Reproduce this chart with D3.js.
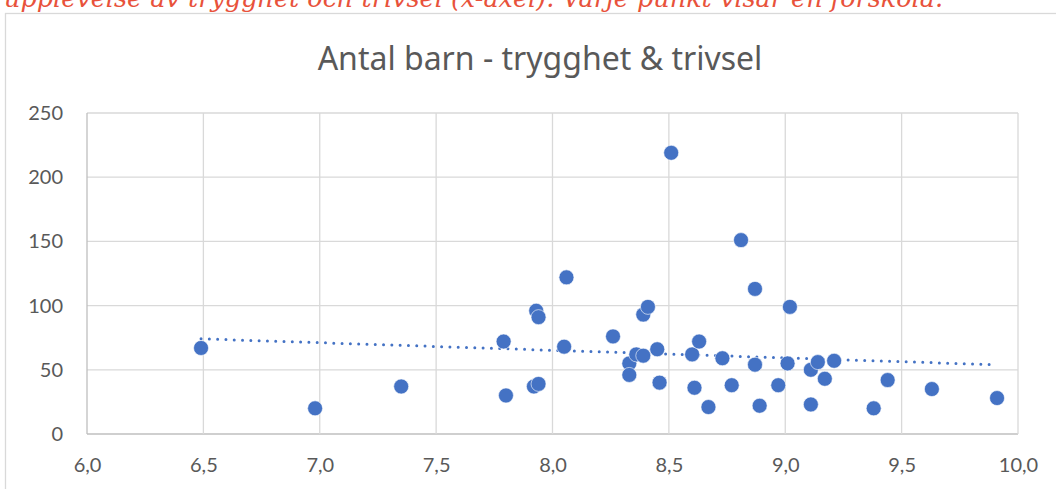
<!DOCTYPE html>
<html>
<head>
<meta charset="utf-8">
<script src="https://cdn.jsdelivr.net/npm/d3@7"></script>
<style>
  html, body { margin: 0; padding: 0; background: #fff; overflow: hidden; }
  svg { display: block; }
</style>
</head>
<body>
<svg id="chart" width="1056" height="489"></svg>
<script>
// trygghet & trivsel (x) vs antal barn (y), one point per förskola
const trivsel = [6.49, 6.98, 7.35, 7.79, 7.80, 7.93, 7.94, 7.92, 7.94, 8.05,
    8.06, 8.26, 8.33, 8.33, 8.36, 8.39, 8.39, 8.41, 8.45, 8.46,
    8.51, 8.60, 8.63, 8.61, 8.67, 8.73, 8.77, 8.81, 8.87, 8.87,
    8.89, 8.97, 9.01, 9.02, 9.11, 9.14, 9.17, 9.21, 9.11, 9.38,
    9.44, 9.63, 9.91];
const antalBarn = [67, 20, 37, 72, 30, 96, 91, 37, 39, 68,
    122, 76, 55, 46, 62, 61, 93, 99, 66, 40,
    219, 62, 72, 36, 21, 59, 38, 151, 113, 54,
    22, 38, 55, 99, 50, 56, 43, 57, 23, 20,
    42, 35, 28];
const xTicks = [6.0, 6.5, 7.0, 7.5, 8.0, 8.5, 9.0, 9.5, 10.0];
const yTicks = [0, 50, 100, 150, 200, 250];

const title = 'Antal barn - trygghet & trivsel';
const caption = 'upplevelse av trygghet och trivsel (x-axel). Varje punkt visar en förskola.';

const svg = d3.select('#chart');
const margin = {left: 87, right: 38, top: 113, bottom: 55};
const W = 1056, H = 489;

const x = d3.scaleLinear().domain([6, 10]).range([margin.left, W - margin.right]);
const y = d3.scaleLinear().domain([0, 250]).range([H - margin.bottom, margin.top]);

// text above the chart, cut by the top edge (as in the source)
svg.append('text')
    .attr('x', 4).attr('y', 7)
    .style('font-family', '"DejaVu Serif", serif')
    .style('font-style', 'italic')
    .style('font-size', '25.5px')
    .style('fill', '#e8523b')
    .text(caption);

// chart frame
svg.append('rect')
    .attr('x', 5.5).attr('y', 13.5)
    .attr('width', 1070).attr('height', 500)
    .attr('fill', '#fff')
    .attr('stroke', '#d9d9d9')
    .attr('stroke-width', 1.3);

svg.append('text')
    .attr('x', 540).attr('y', 70)
    .attr('text-anchor', 'middle')
    .style('font-family', '"Noto Sans", sans-serif')
    .style('font-size', '32px')
    .style('fill', '#595959')
    .text(title);

// gridlines
const grid = svg.append('g');
grid.selectAll('line.h').data(yTicks).enter().append('line')
    .attr('x1', x(6)).attr('x2', x(10))
    .attr('y1', (d) => y(d)).attr('y2', (d) => y(d))
    .attr('stroke', (d) => d === 0 ? '#bfbfbf' : '#d9d9d9')
    .attr('stroke-width', 1.3);
grid.selectAll('line.v').data(xTicks).enter().append('line')
    .attr('y1', y(0)).attr('y2', y(250))
    .attr('x1', (d) => x(d)).attr('x2', (d) => x(d))
    .attr('stroke', (d) => d === 6 ? '#bfbfbf' : '#d9d9d9')
    .attr('stroke-width', 1.3);

// axes (labels only)
const fmt = (d) => d3.format('.1f')(d).replace('.', ',');
const xAxis = svg.append('g')
    .attr('transform', `translate(0,${y(0)})`)
    .call(d3.axisBottom(x).tickValues(xTicks).tickFormat(fmt).tickSize(0).tickPadding(24));
const yAxis = svg.append('g')
    .attr('transform', `translate(${x(6)},0)`)
    .call(d3.axisLeft(y).tickValues(yTicks).tickSize(0).tickPadding(24));
[xAxis, yAxis].forEach((ax) => {
    ax.select('.domain').remove();
    ax.selectAll('text')
        .style('font-family', 'Lato, sans-serif')
        .style('font-size', '20px')
        .style('fill', '#595959');
});

// linear trendline (least squares)
const n = trivsel.length;
const mx = d3.mean(trivsel), my = d3.mean(antalBarn);
let sxy = 0, sxx = 0;
for (let i = 0; i < n; i++) {
    sxy += (trivsel[i] - mx) * (antalBarn[i] - my);
    sxx += (trivsel[i] - mx) ** 2;
}
const slope = sxy / sxx;
const icpt = my - slope * mx;
const [x0, x1] = d3.extent(trivsel);
svg.append('line')
    .attr('x1', x(x0)).attr('y1', y(icpt + slope * x0))
    .attr('x2', x(x1)).attr('y2', y(icpt + slope * x1))
    .attr('stroke', '#4472c4')
    .attr('stroke-width', 3)
    .attr('stroke-linecap', 'round')
    .attr('stroke-dasharray', '0 8.3');

// points
svg.append('g').selectAll('circle')
    .data(d3.range(n))
    .enter().append('circle')
    .attr('cx', (i) => x(trivsel[i]))
    .attr('cy', (i) => y(antalBarn[i]))
    .attr('r', 7.5)
    .attr('fill', '#4472c4')
    .attr('stroke', '#fff')
    .attr('stroke-width', 0.6);
</script>
</body>
</html>
